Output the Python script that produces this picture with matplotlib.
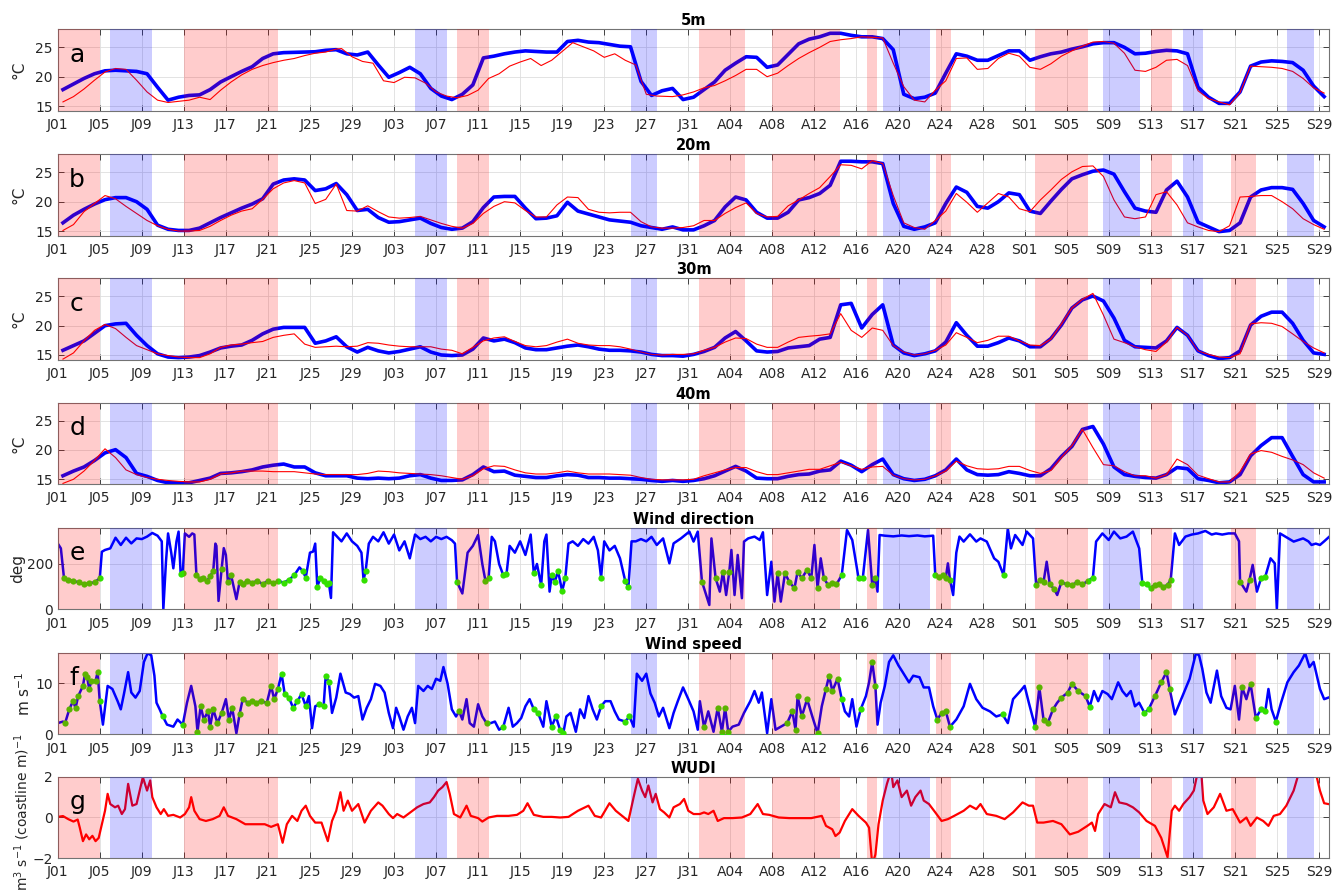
import numpy as np
import matplotlib
matplotlib.use('Agg')
import matplotlib.pyplot as plt

# ---------------- x axis ----------------
tick_labels = ['J01', 'J05', 'J09', 'J13', 'J17', 'J21', 'J25', 'J29', 'J03', 'J07',
               'J11', 'J15', 'J19', 'J23', 'J27', 'J31', 'A04', 'A08', 'A12', 'A16',
               'A20', 'A24', 'A28', 'S01', 'S05', 'S09', 'S13', 'S17', 'S21', 'S25', 'S29']
tick_days = [4 * i for i in range(len(tick_labels))]

# event periods (days since June 1)
red_spans = [(0, 4), (12, 21), (38, 41), (61, 65.4), (68, 74.4), (77, 78),
             (83.6, 85), (93, 98), (104, 106), (111.6, 114)]
blue_spans = [(5, 9), (34, 37), (54.5, 57), (78.5, 83), (99.5, 103), (107.1, 109), (117, 119.5)]
red_spans_5m = [s for s in red_spans if s != (111.6, 114)]

# ---------------- temperature (daily) ----------------
day = np.arange(121) + 0.5
t_red_5m = np.concatenate([np.arange(27) + 0.5, np.arange(27, 58), np.arange(58, 121) + 0.5])

obs_5m = [17.8, 18.75, 19.7, 20.5, 21.0, 21.1, 21.0, 20.9, 20.5, 18.2,
          16.0, 16.5, 16.8, 16.9, 17.8, 19.1, 20.0, 20.9, 21.7, 23.1,
          23.9, 24.1, 24.15, 24.2, 24.25, 24.5, 24.6, 23.9, 23.7, 24.2,
          22.0, 19.9, 20.7, 21.6, 20.5, 18.0, 16.7, 16.1, 17.0, 18.6,
          23.2, 23.5, 23.9, 24.2, 24.4, 24.3, 24.2, 24.2, 26.0, 26.2,
          25.9, 25.8, 25.5, 25.2, 25.1, 19.2, 16.8, 17.6, 18.0, 16.1,
          16.5, 17.8, 19.1, 21.1, 22.3, 23.4, 23.3, 21.6, 22.0, 23.8,
          25.6, 26.4, 26.8, 27.4, 27.4, 27.05, 26.8, 26.8, 26.5, 24.6,
          17.0, 16.25, 16.5, 17.2, 20.6, 23.9, 23.5, 22.8, 22.8, 23.6,
          24.4, 24.4, 22.8, 23.4, 23.9, 24.2, 24.7, 25.1, 25.6, 25.8,
          25.8, 25.0, 23.9, 24.0, 24.3, 24.5, 24.4, 23.9, 18.2, 16.5,
          15.45, 15.45, 17.4, 21.8, 22.5, 22.7, 22.6, 22.4, 21.1, 18.4,
          16.6]
mod_5m = [15.7, 16.6, 17.9, 19.4, 20.8, 21.4, 21.25, 19.4, 17.4, 16.0,
          15.6, 15.8, 16.0, 16.5, 16.1, 17.7, 19.1, 20.3, 21.25, 21.9,
          22.4, 22.8, 23.1, 23.6, 24.0, 24.2, 24.7,
          24.8, 23.4, 22.6, 22.3, 19.3, 19.0, 19.9, 19.8, 18.9, 17.4,
          16.7, 16.4, 16.8, 17.7, 19.7, 20.5, 21.8, 22.5, 23.1, 21.9,
          22.8, 24.3, 25.8, 25.1, 24.4, 23.3, 23.9, 22.8, 22.0, 17.0, 16.7,
          16.6, 16.9, 17.4, 18.1, 18.5, 19.3, 20.2, 21.25, 21.25, 20.0,
          20.6, 21.9, 23.1, 24.1, 25.0, 26.0, 26.3, 26.5, 26.8, 26.7,
          26.6, 22.3, 18.3, 16.0, 15.7, 17.7, 19.3, 23.1, 23.2, 21.25,
          21.4, 23.1, 24.0, 23.5, 21.6, 21.25, 22.2, 23.5, 24.4, 25.2,
          25.9, 26.0, 25.7, 24.0, 21.1, 20.9, 21.6, 22.8, 22.95, 21.9,
          17.6, 16.25, 15.7, 15.2, 17.3, 21.8, 21.7, 21.6, 21.4, 20.9,
          19.7, 18.1, 17.2]

obs_20m = [16.4, 17.7, 18.7, 19.6, 20.35, 20.7, 20.7, 20.0, 18.7, 16.0,
           15.3, 15.1, 15.1, 15.5, 16.4, 17.3, 18.1, 18.9, 19.6, 20.5,
           23.0, 23.7, 23.9, 23.7, 21.9, 22.2, 23.1, 21.2, 18.5, 18.7,
           17.3, 16.5, 16.6, 16.9, 17.2, 16.3, 15.6, 15.3, 15.5, 16.6,
           19.0, 20.8, 20.9, 20.9, 18.9, 17.1, 17.2, 17.6, 19.9, 18.4,
           17.9, 17.4, 16.9, 16.7, 16.5, 15.9, 15.6, 15.3, 15.7, 15.2,
           15.2, 15.9, 16.8, 19.1, 20.8, 20.3, 18.2, 17.2, 17.2, 18.2,
           20.3, 20.7, 21.4, 22.8, 26.9, 26.9, 26.8, 26.8, 26.5, 19.7,
           15.8, 15.3, 15.7, 16.4, 19.7, 22.5, 21.6, 19.2, 18.9, 20.0,
           21.5, 21.2, 18.4, 18.0, 20.1, 22.1, 23.9, 24.6, 25.2, 25.4,
           24.7, 21.7, 18.9, 18.4, 18.2, 22.0, 23.5, 20.8, 16.5, 15.7,
           14.9, 15.1, 16.4, 20.8, 22.0, 22.4, 22.4, 22.1, 19.7, 16.8,
           15.7]
mod_20m = [15.1, 16.1, 18.3, 19.7, 21.05, 20.5, 19.2, 18.0, 16.8, 15.9,
           15.3, 15.0, 15.0, 15.1, 15.8, 16.8, 17.7, 18.4, 18.8, 20.4,
           22.2, 23.2, 23.6, 23.2, 19.7, 20.4, 23.0, 18.5, 18.4, 19.3,
           18.3, 17.4, 17.2, 17.3, 17.5, 16.9, 16.3, 15.8, 15.5, 16.3,
           18.0, 19.2, 20.0, 19.8, 18.5, 17.4, 17.4, 19.45, 20.8, 20.7,
           18.7, 18.2, 18.1, 18.2, 18.2, 16.6, 15.7, 15.5, 15.5, 15.6,
           15.9, 16.8, 16.8, 18.0, 19.0, 19.8, 18.0, 17.4, 17.5, 19.3,
           20.3, 21.4, 22.4, 24.3, 26.3, 26.2, 25.6, 27.0, 26.5, 21.05,
           16.4, 15.6, 15.3, 16.8, 18.4, 21.4, 19.9, 18.2, 19.8, 21.4,
           20.8, 18.8, 18.3, 20.3, 22.0, 23.8, 25.1, 26.0, 26.1, 24.3,
           20.3, 17.4, 17.1, 17.4, 21.2, 21.7, 19.45, 16.4, 15.7, 15.1,
           14.9, 15.9, 20.8, 20.9, 21.05, 21.05, 20.0, 18.8, 17.1, 16.1,
           15.3]

obs_30m = [15.8, 16.6, 17.4, 18.7, 20.0, 20.3, 20.4, 18.35, 16.6, 15.2,
           14.65, 14.55, 14.65, 14.9, 15.5, 16.2, 16.5, 16.7, 17.5, 18.6,
           19.4, 19.7, 19.7, 19.7, 17.0, 17.4, 18.1, 16.4, 15.5, 16.3,
           15.7, 15.35, 15.6, 16.0, 16.4, 15.5, 15.0, 14.9, 15.0, 16.0,
           17.9, 17.4, 17.7, 17.1, 16.2, 15.9, 15.9, 16.2, 16.5, 16.7,
           16.4, 16.0, 15.8, 15.8, 15.7, 15.5, 15.1, 14.9, 14.9, 14.8,
           15.1, 15.6, 16.3, 17.9, 19.0, 17.4, 15.7, 15.5, 15.6, 16.2,
           16.4, 16.6, 17.7, 18.0, 23.55, 23.8, 19.6, 21.9, 23.55, 16.7,
           15.35, 14.9, 15.2, 15.7, 17.2, 20.5, 18.35, 16.5, 16.5, 17.1,
           17.9, 17.4, 16.4, 16.4, 17.8, 20.1, 23.0, 24.4, 25.05, 24.2,
           21.3, 17.5, 16.4, 16.3, 16.2, 17.4, 19.7, 18.35, 15.7, 14.9,
           14.4, 14.55, 15.7, 20.1, 21.6, 22.3, 22.3, 20.4, 17.5, 15.35,
           15.1]
mod_30m = [14.3, 15.35, 17.4, 19.2, 20.2, 19.5, 18.0, 16.6, 15.9, 15.2,
           14.9, 14.65, 14.55, 14.55, 15.2, 16.3, 16.7, 16.85, 17.1, 17.3,
           18.0, 18.35, 18.6, 16.85, 16.3, 16.4, 16.5, 16.4, 16.5, 17.1,
           17.0, 16.7, 16.5, 16.4, 16.4, 16.4, 16.0, 15.8, 15.2, 16.3,
           17.4, 17.9, 18.1, 17.3, 16.6, 16.4, 16.6, 17.2, 17.7, 17.0,
           16.7, 16.6, 16.6, 16.4, 16.0, 15.5, 15.1, 15.0, 15.1, 15.1,
           15.2, 15.8, 16.3, 17.2, 17.9, 17.8, 16.85, 16.3, 16.3, 17.2,
           18.0, 18.2, 18.35, 18.6, 22.05, 19.2, 18.0, 19.6, 19.2, 16.6,
           15.5, 15.0, 15.2, 15.8, 16.7, 18.8, 18.0, 17.1, 17.5, 18.2,
           18.2, 17.4, 16.7, 16.6, 17.7, 20.3, 23.0, 24.5, 25.5, 21.8,
           17.7, 17.1, 16.4, 15.9, 15.6, 17.2, 19.7, 18.35, 15.7, 15.1,
           14.65, 14.55, 15.2, 20.3, 20.5, 20.4, 19.85, 18.6, 17.3, 16.2,
           15.35]

obs_40m = [15.6, 16.4, 17.1, 18.2, 19.5, 20.05, 18.7, 16.0, 15.5, 14.8,
           14.4, 14.4, 14.4, 14.8, 15.2, 16.0, 16.1, 16.3, 16.6, 17.1,
           17.4, 17.6, 17.1, 17.1, 16.1, 15.6, 15.6, 15.6, 15.2, 15.1,
           15.2, 15.1, 15.2, 15.6, 15.8, 15.2, 14.8, 14.8, 14.9, 15.8,
           17.1, 16.3, 16.4, 15.7, 15.5, 15.3, 15.3, 15.6, 15.8, 15.7,
           15.3, 15.3, 15.2, 15.2, 15.1, 15.0, 14.8, 14.65, 14.8, 14.65,
           14.8, 15.1, 15.6, 16.4, 17.2, 16.4, 15.2, 15.1, 15.1, 15.5,
           15.8, 15.9, 16.4, 16.6, 18.1, 17.4, 16.3, 17.5, 18.45, 15.8,
           15.1, 14.8, 15.0, 15.6, 16.6, 18.45, 16.6, 15.8, 15.7, 15.8,
           16.3, 16.0, 15.6, 15.6, 16.8, 18.9, 20.6, 23.5, 24.0, 21.0,
           17.1, 15.8, 15.5, 15.3, 15.2, 15.8, 17.0, 16.8, 15.1, 14.8,
           14.4, 14.55, 15.8, 19.0, 20.75, 22.1, 22.1, 18.9, 15.8, 14.55,
           14.55]
mod_40m = [14.3, 15.0, 16.4, 18.2, 20.2, 18.7, 16.6, 15.8, 15.3, 15.0,
           14.8, 14.65, 14.55, 14.55, 15.0, 15.9, 16.1, 16.4, 16.4, 16.4,
           16.3, 16.3, 16.3, 16.1, 15.9, 15.8, 15.8, 15.8, 15.8, 16.0,
           16.4, 16.3, 16.1, 16.0, 15.9, 15.8, 15.6, 15.3, 15.0, 15.6,
           16.8, 17.3, 17.2, 16.6, 16.1, 15.9, 15.9, 16.1, 16.4, 16.1,
           15.9, 15.9, 15.9, 15.8, 15.7, 15.3, 15.0, 14.9, 14.9, 14.9,
           15.0, 15.6, 16.1, 16.6, 17.0, 17.0, 16.3, 15.8, 15.8, 16.1,
           16.4, 16.7, 16.7, 17.3, 17.9, 17.3, 16.7, 17.1, 17.2, 15.7,
           15.1, 14.9, 15.0, 15.6, 16.4, 18.1, 17.3, 16.8, 16.7, 16.8,
           17.2, 17.2, 16.5, 16.0, 16.5, 18.7, 20.75, 23.5, 20.4, 17.5,
           17.3, 16.3, 15.6, 15.6, 15.2, 15.8, 18.45, 17.5, 15.7, 15.1,
           14.55, 14.55, 16.3, 19.3, 19.9, 19.6, 18.9, 18.3, 17.5, 16.1,
           15.2]

# ---------------- wind direction ----------------
wdir_t = [0.0, 0.3, 0.6, 1.0, 1.5, 2.0, 2.5, 3.0, 3.5, 4.0, 4.2, 4.5, 5.0, 5.5, 6.0, 6.5, 7.0, 7.5,
          8.0, 8.5, 9.0, 9.5, 9.9, 10.05, 10.3, 10.5, 10.8, 11.0, 11.3, 11.5, 11.7, 11.9, 12.1, 12.5,
          12.8, 13.0, 13.2, 13.5, 13.8, 14.2, 14.5, 14.8, 15.0, 15.1, 15.3, 15.6, 15.8, 16.0, 16.2,
          16.5, 17.0, 17.3, 17.6, 18.0, 18.5, 19.0, 19.5, 20.0, 20.5, 21.0, 21.5, 22.0, 22.5, 23.0,
          23.3, 23.6, 24.0, 24.3, 24.5, 24.7, 25.0, 25.3, 25.6, 25.8, 26.0, 26.2, 26.5, 27.0, 27.5,
          28.0, 28.5, 28.9, 29.1, 29.3, 29.6, 30.0, 30.5, 31.0, 31.5, 32.0, 32.5, 33.0, 33.5, 34.0,
          34.5, 35.0, 35.5, 36.0, 36.5, 37.0, 37.5, 37.8, 38.0, 38.5, 39.0, 39.5, 40.0, 40.4, 40.7,
          41.0, 41.3, 41.6, 42.0, 42.4, 42.7, 43.0, 43.5, 44.0, 44.5, 45.0, 45.3, 45.6, 46.0, 46.3,
          46.5, 46.8, 47.0, 47.3, 47.6, 48.0, 48.3, 48.6, 49.0, 49.5, 50.0, 50.5, 51.0, 51.4, 51.7,
          52.0, 52.5, 53.0, 53.5, 54.0, 54.3, 54.6, 55.0, 55.5, 56.0, 56.5, 57.0, 57.6, 58.2, 58.6,
          59.3, 60.1, 60.5, 60.9, 61.3, 61.7, 62.0, 62.2, 62.6, 63.0, 63.3, 63.6, 63.9, 64.1, 64.4,
          64.7, 65.1, 65.3, 65.7, 66.3, 66.8, 67.1, 67.5, 67.9, 68.2, 68.5, 68.8, 69.2, 69.6, 70.1,
          70.4, 70.8, 71.3, 71.7, 72.0, 72.3, 72.6, 72.9, 73.3, 73.7, 74.1, 74.6, 75.1, 75.6, 76.2,
          76.6, 77.1, 77.5, 77.8, 78.0, 78.2, 78.7, 79.5, 80.3, 81.0, 81.8, 82.5, 83.3, 83.5, 83.9,
          84.2, 84.5, 84.7, 84.9, 85.2, 85.5, 85.8, 86.2, 86.8, 87.4, 87.8, 88.4, 89.1, 89.5, 90.0,
          90.4, 90.7, 91.1, 91.8, 92.2, 92.8, 93.1, 93.5, 93.8, 94.1, 94.4, 94.8, 95.1, 95.5, 96.0,
          96.5, 97.0, 97.5, 98.0, 98.5, 98.8, 99.4, 100.0, 100.5, 101.1, 101.7, 102.3, 102.9, 103.2,
          103.6, 104.0, 104.4, 104.8, 105.2, 105.6, 105.9, 106.3, 106.7, 107.3, 107.9, 108.5, 109.2,
          109.8, 110.2, 110.8, 111.4, 112.0, 112.4, 112.5, 113.1, 113.4, 113.7, 114.1, 114.5, 114.9,
          115.4, 115.8, 116.0, 116.3, 116.8, 117.2, 117.6, 118.0, 118.5, 119.0, 119.3, 119.7, 120.1,
          120.5, 121.0]
wdir_v = [291, 269, 137, 130, 125, 119, 110, 115, 119, 137, 254, 262, 269, 316, 284, 316, 291, 313,
          310, 321, 337, 325, 300, 0, 210, 335, 250, 181, 300, 343, 155, 160, 335, 320,
          335, 330, 150, 135, 140, 125, 145, 170, 290, 280, 37, 180, 270, 240, 120,
          150, 45, 120, 110, 125, 118, 125, 112, 125, 115, 125, 118, 130, 150, 185,
          170, 140, 250, 255, 290, 100, 140, 125, 110, 115, 50, 340, 325, 300, 335,
          300, 280, 250, 130, 170, 290, 320, 300, 340, 290, 330, 260, 300, 225, 330,
          310, 320, 300, 320, 310, 320, 305, 290, 120, 70, 250, 280, 328, 200, 125,
          140, 320, 300, 200, 150, 155, 280, 250, 300, 240, 330, 160, 200, 107, 300,
          330, 78, 150, 120, 170, 80, 140, 290, 300, 280, 310, 290, 320, 260, 140,
          300, 260, 280, 225, 125, 98, 300, 300, 310, 300, 320, 284, 313, 203, 291,
          313, 343, 299, 343, 122, 63, 19, 313, 137, 78, 166, 63, 166, 262, 63,
          240, 49, 299, 313, 321, 306, 340, 63, 210, 34, 159, 34, 159, 122, 93,
          166, 137, 174, 137, 284, 93, 225, 137, 107, 115, 110, 151, 350, 306, 137,
          137, 350, 107, 137, 78, 328, 325, 322, 326, 323, 326, 322, 325, 150, 144,
          150, 140, 203, 130, 63, 250, 321, 299, 331, 299, 313, 299, 225, 210, 151,
          357, 269, 328, 284, 343, 313, 107, 130, 120, 210, 110, 90, 63, 120, 110,
          107, 120, 110, 125, 140, 299, 335, 306, 343, 313, 321, 343, 269, 115,
          110, 95, 107, 110, 100, 107, 130, 335, 284, 321, 330, 335, 346,
          330, 335, 330, 335, 335, 300, 122, 78, 130, 196, 78, 137, 144,
          225, 203, 0, 335, 321, 310, 299, 305, 313, 300, 284, 290, 284,
          300, 321]

# ---------------- wind speed ----------------
wspd_t = [0.0, 0.5, 0.7, 1.1, 1.45, 1.7, 1.95, 2.4, 2.6, 2.8, 3.0, 3.2, 3.6, 3.8, 4.0, 4.3, 4.75,
          5.2, 5.7, 6.0, 6.3, 6.7, 7.0, 7.4, 7.8, 8.2, 8.55, 8.9, 9.2, 9.4, 9.7, 10.0, 10.4, 11.0,
          11.4, 11.9, 12.3, 12.7, 13.1, 13.3, 13.6, 13.9, 14.3, 14.5, 14.8, 15.2, 15.6, 16.0, 16.3,
          16.6, 17.0, 17.3, 17.6, 18.1, 18.5, 18.9, 19.3, 19.9, 20.3, 20.6, 20.95, 21.3, 21.6, 22.0,
          22.4, 22.8, 23.2, 23.6, 23.9, 24.2, 24.5, 24.9, 25.3, 25.5, 25.8, 26.1, 26.5, 26.9, 27.4,
          27.8, 28.2, 28.6, 29.0, 29.4, 29.8, 30.2, 30.7, 31.1, 31.5, 31.9, 32.2, 32.5, 32.9, 33.3,
          33.7, 34.0, 34.3, 34.8, 35.2, 35.6, 36.0, 36.4, 36.7, 37.1, 37.5, 37.9, 38.2, 38.5, 38.9,
          39.2, 39.6, 40.0, 40.4, 40.8, 41.2, 41.6, 42.0, 42.4, 42.9, 43.3, 43.7, 44.1, 44.5, 44.9,
          45.3, 45.7, 46.2, 46.5, 47.0, 47.4, 47.8, 48.1, 48.4, 48.8, 49.3, 49.7, 50.1, 50.5, 50.9,
          51.3, 51.7, 52.1, 52.6, 53.0, 53.4, 54.0, 54.4, 54.8, 55.1, 55.6, 56.0, 56.4, 56.8, 57.2,
          57.6, 58.2, 58.6, 59.0, 59.5, 60.0, 60.5, 60.9, 61.1, 61.5, 61.9, 62.4, 62.8, 63.2, 63.5,
          63.8, 64.2, 64.8, 65.3, 65.9, 66.3, 66.7, 67.0, 67.5, 67.9, 68.3, 68.8, 69.4, 69.9, 70.2,
          70.4, 70.8, 71.3, 71.8, 72.3, 72.7, 73.1, 73.4, 73.7, 74.2, 74.6, 74.9, 75.3, 75.6, 76.0,
          76.4, 76.9, 77.2, 77.5, 77.8, 78.0, 78.3, 78.7, 79.1, 79.5, 80.0, 80.4, 81.0, 81.4, 82.0,
          82.4, 82.9, 83.3, 83.7, 84.1, 84.5, 84.9, 85.5, 86.2, 86.8, 87.4, 88.0, 88.7, 89.3, 89.9,
          90.4, 90.9, 91.6, 92.0, 92.4, 93.0, 93.4, 93.8, 94.2, 94.7, 95.1, 95.5, 96.1, 96.5, 97.1,
          97.8, 98.2, 98.6, 99.0, 99.4, 99.9, 100.3, 100.9, 101.3, 101.7, 102.1, 102.5, 102.9, 103.4,
          103.8, 104.4, 105.0, 105.5, 105.8, 106.3, 106.9, 107.7, 108.3, 108.6, 108.9, 109.3, 109.7,
          110.3, 110.7, 111.2, 111.6, 112.0, 112.4, 112.7, 113.1, 113.5, 114.0, 114.5, 114.9, 115.2,
          115.5, 115.9, 116.4, 117.0, 117.6, 118.1, 118.7, 119.1, 119.5, 120.1, 120.5, 120.9]
wspd_v = [2.2, 2.5, 2.2, 4.9, 6.5, 5.2, 7.5, 9.5, 11.9, 11.2, 8.9, 10.5, 10.5, 12.2, 6.5, 1.9, 9.5,
          8.9, 6.5, 4.9, 7.9, 12.2, 8.2, 7.2, 8.5, 14.2, 15.9, 15.5, 11.5, 6.2, 4.9, 3.5, 1.9, 1.5,
          2.9, 1.9, 6.2, 9.5, 5.5, 0.5, 5.5, 2.9, 4.5, 1.5, 4.9, 2.2, 4.2, 6.9, 2.9,
          5.2, 0.2, 3.9, 6.9, 6.2, 6.5, 6.2, 6.5, 6.2, 9.5, 6.9, 8.9, 11.9, 7.9, 7.2,
          5.2, 6.5, 7.9, 5.5, 7.5, 1.2, 5.5, 5.9, 5.5, 11.5, 10.2, 4.2, 7.2, 11.9, 8.2,
          7.9, 7.2, 7.5, 2.9, 5.2, 6.9, 9.9, 9.5, 8.2, 4.2, 1.2, 5.2, 3.5, 0.9, 3.5,
          5.2, 2.2, 9.5, 8.5, 9.5, 8.9, 10.9, 10.5, 13.2, 9.9, 4.9, 3.5, 4.5, 2.9, 6.9,
          2.2, 1.5, 5.9, 3.5, 2.2, 2.2, 2.5, 0.9, 1.5, 5.2, 1.5, 2.2, 3.2, 5.5, 6.9,
          4.9, 4.2, 1.5, 6.5, 1.5, 3.5, 0.9, 0.2, 3.5, 4.2, 0.5, 4.9, 3.2, 7.5, 4.9,
          2.9, 5.5, 6.5, 6.5, 4.5, 2.9, 2.5, 3.5, 1.5, 11.9, 10.5, 11.9, 8.0, 6.2, 3.5,
          5.2, 1.2, 4.2, 6.5, 9.2, 6.9, 4.5, 0.9, 6.5, 1.4, 4.5, 0.5, 5.2, 0.5, 5.2,
          0.5, 1.5, 1.9, 4.2, 6.5, 8.5, 6.2, 8.2, 0.2, 6.9, 0.9, 1.5, 2.2, 4.5, 0.9,
          7.5, 3.5, 6.9, 3.5, 0.2, 5.5, 8.9, 11.5, 8.5, 10.9, 6.9, 4.5, 3.5, 6.9, 1.5,
          4.9, 7.5, 10.2, 14.2, 9.5, 1.9, 6.2, 9.5, 14.2, 15.5, 13.5, 12.2, 10.2, 11.5, 11.2,
          9.2, 9.2, 5.5, 2.9, 4.2, 4.5, 1.5, 2.9, 5.5, 9.9, 6.9, 5.2, 4.5, 3.5, 3.9,
          2.2, 6.9, 8.5, 9.5, 6.2, 1.5, 9.2, 2.9, 2.2, 4.9, 6.2, 7.2, 8.2, 9.9, 8.5,
          7.5, 5.4, 8.5, 6.5, 8.5, 7.9, 6.9, 10.2, 8.5, 7.5, 8.5, 5.5, 6.2, 4.2,
          4.9, 7.5, 10.2, 12.2, 8.9, 3.9, 6.9, 10.9, 15.9, 15.5, 12.9, 8.2, 6.2,
          12.5, 7.5, 5.2, 4.9, 9.5, 2.9, 9.2, 6.9, 9.9, 3.2, 4.9, 4.5, 8.9,
          4.9, 2.5, 6.2, 10.2, 12.2, 13.5, 15.9, 13.2, 14.2, 8.9, 6.9, 7.2]

# ---------------- WUDI ----------------
wudi_t = [0.0, 0.5, 1.0, 1.5, 1.9, 2.1, 2.4, 2.7, 3.0, 3.3, 3.6, 3.9, 4.2, 4.5, 4.75, 5.0, 5.45,
          5.75, 6.1, 6.4, 6.7, 7.1, 7.5, 7.8, 8.1, 8.5, 8.8, 9.0, 9.4, 9.8, 10.1, 10.5, 11.0, 11.65,
          12.1, 12.5, 12.7, 13.0, 13.5, 14.1, 14.75, 15.4, 15.8, 16.2, 17.0, 17.85, 18.9, 19.7, 20.3,
          20.95, 21.4, 21.8, 22.3, 22.8, 23.2, 23.6, 24.0, 24.5, 25.1, 25.7, 26.1, 26.5, 26.9, 27.2,
          27.6, 28.0, 28.6, 29.2, 29.8, 30.5, 30.9, 31.5, 31.9, 32.3, 32.9, 33.55, 34.2, 34.8, 35.4,
          35.8, 36.2, 36.6, 37.0, 37.3, 37.7, 38.3, 38.9, 39.3, 40.0, 40.4, 41.0, 41.8, 42.9, 43.7,
          44.3, 44.7, 45.3, 46.2, 47.0, 47.8, 48.6, 49.5, 50.5, 51.1, 51.7, 52.5, 53.1, 53.7, 54.3,
          54.8, 55.2, 55.6, 55.9, 56.2, 56.6, 56.9, 57.3, 57.7, 58.2, 58.6, 59.2, 59.6, 60.0, 60.5,
          61.1, 61.5, 61.9, 62.4, 62.8, 63.4, 64.2, 65.1, 65.9, 66.6, 67.1, 67.7, 68.6, 69.6, 70.6,
          71.7, 72.7, 73.1, 73.7, 74.0, 74.4, 74.9, 75.6, 76.2, 76.9, 77.2, 77.5, 77.8, 78.1, 78.5,
          78.9, 79.3, 79.5, 79.9, 80.3, 80.8, 81.2, 81.6, 82.1, 82.4, 82.9, 83.5, 84.1, 84.7, 85.3,
          86.2, 86.8, 87.4, 87.8, 88.4, 89.3, 90.1, 90.9, 91.8, 92.4, 92.8, 93.2, 93.8, 94.7, 95.5,
          96.3, 97.1, 97.97, 98.4, 98.7, 99.0, 99.6, 100.2, 100.6, 101.0, 101.7, 102.3, 102.9,
          103.6, 104.4, 105.0, 105.6, 106.0, 106.3, 106.7, 107.1, 107.7, 108.1, 108.5, 108.8, 109.0,
          109.4, 110.0, 110.6, 111.2, 111.8, 112.5, 113.1, 113.5, 114.1, 114.7, 115.2, 115.7, 116.3,
          116.9, 117.6, 118.1, 118.7, 119.1, 119.7, 120.1, 120.5, 120.9]
wudi_v = [0.03, 0.07, -0.08, -0.2, -0.1, -0.5, -1.16, -0.83, -1.07, -0.9, -1.16, -1.0, -0.33, 0.33,
          1.16, 0.66, 0.5, 0.58, 0.17, 0.41, 1.65, 0.58, 0.66, 1.32, 1.98, 1.32, 1.82, 1.0, 0.5,
          0.17, 0.41, 0.08, 0.13, 0.0, 0.17, 0.5, 1.0, 0.33, -0.08, -0.17, -0.08, 0.08, 0.5, 0.08,
          -0.08, -0.33, -0.33, -0.33, -0.46, -0.33, -1.24, -0.33, 0.08, -0.17, 0.33, 0.58, 0.08,
          -0.25, -0.25, -1.16, -0.17, 0.33, 1.24, 0.33, 0.83, 0.33, 0.66, -0.25, 0.33, 0.74, 0.58,
          0.17, -0.03, 0.17, 0.0, 0.25, 0.5, 0.66, 0.74, 1.0, 1.32, 1.49, 1.74, 1.16, 0.17, 0.0,
          0.58, 0.08, -0.03, -0.2, 0.0, 0.08, 0.08, 0.13, 0.33, 0.7, 0.13, 0.03, 0.03, 0.0, 0.03,
          0.33, 0.58, 0.08, 0.0, 0.7, 0.33, 0.08, -0.17, 1.0, 1.9, 1.32, 1.0, 1.57, 0.74, 1.16,
          0.41, 0.25, 0.0, 0.5, 0.66, 0.91, 0.33, 0.17, 0.17, 0.25, 0.17, 0.33, -0.17, -0.03,
          -0.03, 0.0, 0.17, 0.66, 0.17, 0.13, 0.0, -0.03, -0.03, -0.03, 0.08, -0.41, -0.58, -0.91,
          -0.74, -0.17, 0.41, 0.08, -0.25, -0.5, -2.3, -1.82, -0.33, 0.83, 1.65, 2.3, 1.49, 1.82,
          1.0, 1.32, 0.58, 1.0, 1.32, 0.83, 0.66, 0.25, -0.17, -0.08, 0.08, 0.33, 0.58, 0.41,
          0.66, 0.17, 0.08, -0.08, 0.25, 0.74, 0.58, 0.58, -0.25, -0.25, -0.17, -0.33, -0.83,
          -0.7, -0.41, -0.25, -0.66, 0.17, 0.66, 0.5, 1.24, 0.74, 0.66, 0.5, 0.25, -0.17, -0.41,
          -1.0, -1.95, 0.33, 0.58, 0.33, 0.66, 1.0, 1.32, 2.3, 2.3, 0.83, 0.17, 0.5, 1.16, 0.33,
          0.41, -0.25, 0.0, -0.41, 0.0, -0.17, -0.41, 0.08, 0.17, 0.58, 1.32, 2.2, 2.1, 2.0, 2.2,
          1.32, 0.7, 0.66]

# ---------------- figure ----------------
plt.rcParams['font.family'] = ['DejaVu Sans']
fig = plt.figure(figsize=(13.33, 8.93), dpi=100)

left, width, height = 0.0433, 0.954, 0.0913
bottoms = [0.8757, 0.7357, 0.5969, 0.4577, 0.3177, 0.1777, 0.0389]
titles = ['5m', '20m', '30m', '40m', 'Wind direction', 'Wind speed', 'WUDI']
letters = ['a', 'b', 'c', 'd', 'e', 'f', 'g']

RED = '#ff0000'
BLUE = '#0000ff'
GREEN = '#33e000'
TXT = '0.15'


def style(ax, i):
    ax.set_xlim(0, 121)
    ax.set_xticks(tick_days)
    ax.set_xticklabels(tick_labels)
    ax.tick_params(direction='in', top=True, right=True, length=4, width=0.7,
                   color='0.25', labelsize=10, labelcolor=TXT)
    ax.tick_params(axis='x', pad=5.2)
    ax.tick_params(axis='y', pad=3.5)
    for s in ax.spines.values():
        s.set_color('0.45')
        s.set_linewidth(0.8)
    ax.grid(True, color='0.87', lw=0.6, zorder=0)
    ax.set_axisbelow(True)
    ax.set_title(titles[i], fontsize=10.5, fontweight='bold', pad=3)
    ax.text(0.009, 0.6, letters[i], transform=ax.transAxes, fontsize=18,
            ha='left', va='baseline', color='k', zorder=6)
    spans_r = red_spans_5m if i == 0 else red_spans
    for a, b in spans_r:
        ax.axvspan(a, b, color=RED, alpha=0.2, lw=0, zorder=4)
    for a, b in blue_spans:
        ax.axvspan(a, b, color=BLUE, alpha=0.2, lw=0, zorder=4)


temps = [(obs_5m, mod_5m, t_red_5m), (obs_20m, mod_20m, day),
         (obs_30m, mod_30m, day), (obs_40m, mod_40m, day)]
axes = []
for i in range(7):
    ax = fig.add_axes([left, bottoms[i], width, height])
    axes.append(ax)
    style(ax, i)

for i, (obs, mod, tmod) in enumerate(temps):
    ax = axes[i]
    ax.plot(day, obs, color=BLUE, lw=2.6, zorder=2, solid_joinstyle='round')
    ax.plot(tmod, mod, color=RED, lw=0.8, zorder=3)
    ax.set_ylim(14.15, 28.05)
    ax.set_yticks([15, 20, 25])
    ax.set_ylabel('°C', fontsize=11, color=TXT)
    ax.yaxis.set_label_coords(-0.0245, 0.5)

# wind direction
wdir_t_a = np.array(wdir_t)
wdir_v_a = np.array(wdir_v, dtype=float)
ax = axes[4]
ax.plot(wdir_t_a, wdir_v_a, color=BLUE, lw=1.8, zorder=2)
m = (wdir_v_a >= 80) & (wdir_v_a <= 180)
ax.plot(wdir_t_a[m], wdir_v_a[m], 'o', color=GREEN, ms=4.5, mec='none', zorder=3)
ax.set_ylim(0, 360)
ax.set_yticks([0, 200])
ax.set_ylabel('deg', fontsize=11, color=TXT)
ax.yaxis.set_label_coords(-0.0255, 0.5)

# wind speed
wspd_t_a = np.array(wspd_t)
wspd_v_a = np.array(wspd_v)
ax = axes[5]
ax.plot(wspd_t_a, wspd_v_a, color=BLUE, lw=1.8, zorder=2)
dir_at_spd = np.interp(wspd_t_a, wdir_t_a, wdir_v_a)
m2 = (dir_at_spd >= 80) & (dir_at_spd <= 180)
ax.plot(wspd_t_a[m2], wspd_v_a[m2], 'o', color=GREEN, ms=4.5, mec='none', zorder=3)
ax.set_ylim(0, 16)
ax.set_yticks([0, 10])
ax.set_ylabel('m s$^{-1}$', fontsize=11, color=TXT)
ax.yaxis.set_label_coords(-0.0195, 0.5)

# WUDI
ax = axes[6]
ax.plot(wudi_t, wudi_v, color=RED, lw=1.6, zorder=2)
ax.set_ylim(-2, 2)
ax.set_yticks([-2, 0, 2])
ax.set_ylabel('m$^3$ s$^{-1}$ (coastline m)$^{-1}$', fontsize=10, color=TXT)
ax.yaxis.set_label_coords(-0.0205, 0.57)

fig.savefig('out.png', dpi=100)
